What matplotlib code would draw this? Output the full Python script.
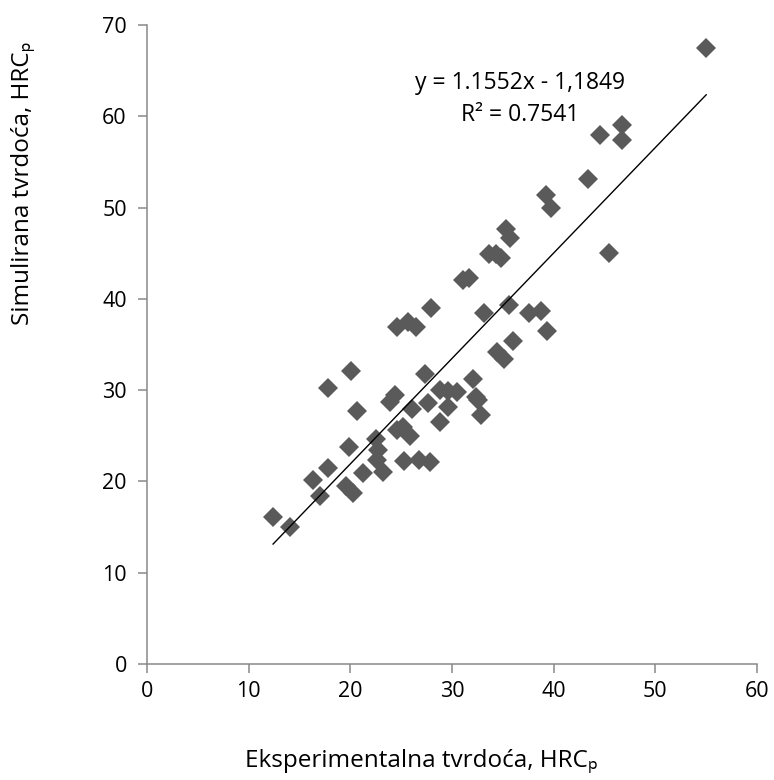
import numpy as np
import matplotlib.pyplot as plt

exp_hrc = [55.0, 44.6, 46.7, 46.7, 43.4, 39.2, 39.7, 35.3, 35.7, 33.6,
           34.3, 34.8, 45.4, 31.1, 31.7, 27.9, 24.6, 25.7, 26.5, 33.1,
           35.6, 37.6, 38.8, 39.3, 36.0, 34.4, 35.1, 20.1, 17.8, 27.3,
           32.1, 24.4, 23.9, 20.7, 28.8, 29.6, 30.5, 32.4, 27.6, 26.1,
           29.6, 32.9, 28.8, 32.6, 19.9, 22.5, 24.6, 25.2, 25.9, 22.7,
           22.6, 21.2, 23.2, 25.3, 26.8, 27.8, 16.3, 17.8, 17.0, 19.6,
           20.3, 12.4, 14.1]
sim_hrc = [67.5, 58.0, 59.0, 57.4, 53.1, 51.4, 49.9, 47.6, 46.7, 44.9,
           44.9, 44.5, 45.0, 42.1, 42.3, 39.0, 36.9, 37.5, 36.9, 38.4,
           39.3, 38.4, 38.7, 36.5, 35.4, 34.2, 33.4, 32.1, 30.2, 31.8,
           31.2, 29.5, 28.7, 27.7, 30.0, 29.9, 29.8, 29.2, 28.6, 27.9,
           28.1, 27.3, 26.5, 28.9, 23.8, 24.7, 25.6, 26.0, 25.0, 23.4,
           22.3, 20.9, 21.0, 22.2, 22.3, 22.1, 20.2, 21.5, 18.4, 19.5,
           18.7, 16.1, 15.0]

slope = 1.1552
intercept = -1.1849
x_ticks = [0, 10, 20, 30, 40, 50, 60]
y_ticks = [0, 10, 20, 30, 40, 50, 60, 70]

plt.rcParams['font.family'] = ['Open Sans', 'DejaVu Sans']

fig = plt.figure(figsize=(7.74, 7.8), dpi=100)
ax = fig.add_axes([147 / 774, 116 / 780, 610 / 774, 639 / 780])

ax.plot(exp_hrc, sim_hrc, linestyle='none', marker='D', markersize=10,
        color='#5a5a5a', markeredgewidth=0, zorder=3)

# linear trendline over the range of the data
xt = np.array([min(exp_hrc), max(exp_hrc)])
ax.plot(xt, slope * xt + intercept, color='black', linewidth=1.0, zorder=4)

ax.set_xlim(0, 60)
ax.set_ylim(0, 70)
ax.set_xticks(x_ticks)
ax.set_yticks(y_ticks)
ax.tick_params(direction='out', length=6.5, width=1.1, color='#898989',
               labelsize=15.5)
ax.tick_params(axis='y', pad=8)
ax.tick_params(axis='x', pad=6)
for side in ['top', 'right']:
    ax.spines[side].set_visible(False)
for side in ['left', 'bottom']:
    ax.spines[side].set_color('#898989')
    ax.spines[side].set_linewidth(1.1)

ax.text(36.7, 63.6, 'y = 1.1552x - 1,1849', fontsize=16.5, ha='center', va='center')
ax.text(36.7, 60.1, 'R² = 0.7541', fontsize=16.5, ha='center', va='center')

fig.text(421 / 774, 1 - 761 / 780, 'Eksperimentalna tvrdoća, HRCₚ',
         fontsize=17.5, ha='center', va='center')
fig.text(23 / 774, 1 - 183 / 780, 'Simulirana tvrdoća, HRCₚ',
         fontsize=17.5, ha='center', va='center', rotation=90)

fig.savefig('out.png', dpi=100)
